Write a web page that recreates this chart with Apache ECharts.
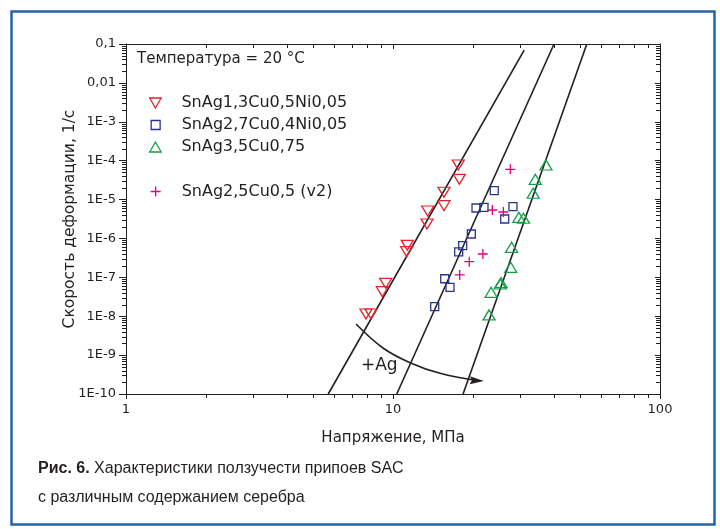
<!DOCTYPE html>
<html>
<head>
<meta charset="utf-8">
<script src="https://cdn.jsdelivr.net/npm/echarts@6/dist/echarts.min.js"></script>
<style>
html,body{margin:0;padding:0;background:#fff;}
#c{width:720px;height:529px;}
</style>
</head>
<body>
<div id="c"></div>
<script>
// ---------- data ----------
const seriesNames = ['SnAg1,3Cu0,5Ni0,05', 'SnAg2,7Cu0,4Ni0,05', 'SnAg3,5Cu0,75', 'SnAg2,5Cu0,5 (v2)'];

const redX = [17.56, 17.72, 15.52, 15.52, 13.49, 13.41, 11.31, 11.25, 9.39, 9.12, 7.92, 8.27];
const redY = [7.74e-5, 3.32e-5, 1.54e-5, 6.95e-6, 5.08e-6, 2.35e-6, 6.67e-7, 4.56e-7, 7.03e-8, 4.27e-8, 1.14e-8, 1.14e-8];

const blueX = [23.95, 20.46, 21.92, 28.14, 26.2, 19.65, 18.24, 17.62, 15.62, 16.35, 14.33];
const blueY = [1.69e-5, 6.07e-6, 6.32e-6, 6.55e-6, 3.16e-6, 1.30e-6, 6.52e-7, 4.49e-7, 9.2e-8, 5.55e-8, 1.76e-8];

const greenX = [37.4, 34.1, 33.5, 29.6, 30.8, 27.8, 27.6, 25.4, 25.2, 23.3, 22.9];
const greenY = [7.74e-5, 3.32e-5, 1.45e-5, 3.5e-6, 3.3e-6, 5.92e-7, 1.81e-7, 7.28e-8, 6.74e-8, 4.12e-8, 1.08e-8];

const pinkX = [27.5, 23.55, 25.9, 21.7, 19.3, 17.78];
const pinkY = [6.0e-5, 5.39e-6, 4.79e-6, 3.98e-7, 2.52e-7, 1.15e-7];

// fitted lines: [x, y] end points
const line1 = [[5.72, 1e-10], [31.0, 0.070]];
const line2 = [[10.33, 1e-10], [40.1, 0.1]];
const line3 = [[18.3, 1e-10], [53.2, 0.1]];

// "+Ag" arrow path
const arrowX = [7.27, 9.2, 11.58, 15.0, 20.6];
const arrowY = [6.3e-9, 1.5e-9, 6.4e-10, 3.4e-10, 2.22e-10];

const xTickLabels = ['1', '10', '100'];
const yTickLabels = ['1E-10', '1E-9', '1E-8', '1E-7', '1E-6', '1E-5', '1E-4', '1E-3', '0,01', '0,1'];

const xMin = 1, xMax = 100, yMin = 1e-10, yMax = 0.1;

// minor tick values (2..9 x 10^k)
const minorX = [];
for (let k = 0; k < 2; k++) for (let m = 2; m <= 9; m++) minorX.push(m * Math.pow(10, k));
const minorY = [];
for (let k = -10; k < -1; k++) for (let m = 2; m <= 9; m++) minorY.push(m * Math.pow(10, k));

// ---------- style ----------
const INK = '#231f20';
const FONT = 'DejaVu Sans';
const colors = ['#e52329', '#2b3590', '#13a04a', '#e5007d'];
const symDown = 'path://M0,0 L12,0 L6,10.4 Z';
const symUp = 'path://M6,0 L12,10.4 L0,10.4 Z';
const symCross = 'path://M5,0 L5,10 M0,5 L10,5';
const symHead = 'path://M0,0 L13,3.5 L0,7 L2,3.5 Z';

const zip = (xs, ys) => xs.map((x, i) => [x, ys[i]]);

const chart = echarts.init(document.getElementById('c'), null, {renderer: 'canvas'});

function legendOf(i, icon, top, w, h) {
  return {
    left: 155 - w / 2, top: top, padding: 0, orient: 'vertical',
    itemWidth: w, itemHeight: h, selectedMode: false,
    textStyle: {fontFamily: FONT, fontSize: 16, color: INK, lineHeight: 18, padding: [0, 0, 0, 181 - (155 - w / 2) - w - 5]},
    data: [{name: seriesNames[i], icon: icon,
      itemStyle: {color: 'transparent', borderColor: colors[i], borderWidth: 1.3}}]
  };
}

function scatter(i, data, symbol, size) {
  return {
    name: seriesNames[i], type: 'scatter', data: data, symbol: symbol, symbolSize: size,
    itemStyle: {color: 'transparent', borderColor: colors[i], borderWidth: 1.3, opacity: 1},
    z: 5
  };
}

function fitLine(data) {
  return {type: 'line', data: data, showSymbol: false, symbol: 'none', silent: true,
    lineStyle: {color: INK, width: 1.6}, z: 4, clip: false};
}

const arrowData = zip(arrowX, arrowY).map((p, i, a) =>
  i === a.length - 1
    ? {value: p, symbol: symHead, symbolSize: [14, 8], symbolRotate: -3}
    : {value: p, symbol: 'none'});

const option = {
  animation: false,
  backgroundColor: '#fff',
  grid: {left: 126, right: 60, top: 44, bottom: 135, show: false},
  title: {
    text: 'Температура = 20 °C', left: 137, top: 52, padding: 0,
    textStyle: {fontFamily: FONT, fontSize: 15, fontWeight: 'normal', color: INK}
  },
  legend: [
    legendOf(0, symDown, 94, 12, 10),
    legendOf(1, 'rect', 116, 9, 9),
    legendOf(2, symUp, 138, 12, 10),
    legendOf(3, symCross, 182.5, 10, 10)
  ],
  xAxis: [
    {
      type: 'log', logBase: 10, min: xMin, max: xMax, position: 'bottom',
      axisLine: {show: true, lineStyle: {color: INK, width: 1}},
      axisTick: {show: true, inside: false, length: 5, lineStyle: {color: INK}},
      axisLabel: {fontFamily: FONT, fontSize: 13, color: INK, margin: 9,
        formatter: v => xTickLabels[Math.round(Math.log10(v))]},
      splitLine: {show: false},
      name: 'Напряжение, МПа', nameLocation: 'middle', nameGap: 37,
      nameTextStyle: {fontFamily: FONT, fontSize: 15, color: INK}
    },
    {
      type: 'log', logBase: 10, min: xMin, max: xMax, position: 'top',
      axisLine: {show: true, lineStyle: {color: INK, width: 1}},
      axisTick: {show: true, inside: true, length: 5, lineStyle: {color: INK}},
      axisLabel: {show: false}, splitLine: {show: false}
    }
  ],
  yAxis: [
    {
      type: 'log', logBase: 10, min: yMin, max: yMax, splitNumber: 9, position: 'left',
      axisLine: {show: true, lineStyle: {color: INK, width: 1}},
      axisTick: {show: true, inside: false, length: 7, lineStyle: {color: INK}},
      axisLabel: {fontFamily: FONT, fontSize: 13, color: INK, margin: 10,
        formatter: v => yTickLabels[Math.round(Math.log10(v)) + 10]},
      splitLine: {show: false},
      name: 'Скорость деформации, 1/с', nameLocation: 'middle', nameGap: 48,
      nameMoveOverlap: false,
      nameTextStyle: {fontFamily: FONT, fontSize: 15.5, color: INK}
    },
    {
      type: 'log', logBase: 10, min: yMin, max: yMax, splitNumber: 9, position: 'right',
      axisLine: {show: true, lineStyle: {color: INK, width: 1}},
      axisTick: {show: true, inside: true, length: 5, lineStyle: {color: INK}},
      axisLabel: {show: false}, splitLine: {show: false}
    }
  ],
  graphic: [
    {type: 'rect', left: 9, top: 9, silent: true,
      shape: {width: 703, height: 513},
      style: {fill: 'none', stroke: '#2462aa', lineWidth: 2.5}},
    {type: 'text', left: 361, top: 357, silent: true,
      style: {text: '+Ag', fontFamily: FONT, fontSize: 17, fill: INK}},
    {type: 'text', left: 38, top: 461, silent: true,
      style: {
        text: '{b|Рис. 6.} Характеристики ползучести припоев SAC',
        fontFamily: 'Liberation Sans', fontSize: 16, fill: INK,
        rich: {b: {fontFamily: 'Liberation Sans', fontSize: 16, fontWeight: 'bold', fill: INK}}
      }},
    {type: 'text', left: 38, top: 490, silent: true,
      style: {text: 'с различным содержанием серебра', fontFamily: 'Liberation Sans', fontSize: 16, fill: INK}}
  ],
  series: [
    fitLine(line1), fitLine(line2), fitLine(line3),
    {type: 'line', data: arrowData, smooth: 0.4, showSymbol: true, silent: true, clip: false,
      itemStyle: {color: INK}, lineStyle: {color: INK, width: 1.6}, z: 4},
    scatter(0, zip(redX, redY), symDown, [12, 10]),
    scatter(1, zip(blueX, blueY), 'rect', [8, 8]),
    scatter(2, zip(greenX, greenY), symUp, [12, 10]),
    scatter(3, zip(pinkX, pinkY), symCross, [10, 10]),
    {
      type: 'custom', silent: true, clip: false, z: 3,
      data: minorX.map(v => [v, yMin]),
      renderItem: function (params, api) {
        const v = api.value(0);
        const b = api.coord([v, yMin]);
        const t = api.coord([v, yMax]);
        const x = Math.round(b[0]) + 0.5;
        const st = {stroke: INK, lineWidth: 1};
        return {type: 'group', children: [
          {type: 'line', shape: {x1: x, y1: b[1], x2: x, y2: b[1] + 4}, style: st},
          {type: 'line', shape: {x1: x, y1: t[1], x2: x, y2: t[1] + 4}, style: st}
        ]};
      }
    },
    {
      type: 'custom', silent: true, clip: false, z: 3,
      data: minorY.map(v => [xMin, v]),
      renderItem: function (params, api) {
        const v = api.value(1);
        const l = api.coord([xMin, v]);
        const r = api.coord([xMax, v]);
        const y = Math.round(l[1]) + 0.5;
        const st = {stroke: INK, lineWidth: 1};
        return {type: 'group', children: [
          {type: 'line', shape: {x1: l[0] - 4, y1: y, x2: l[0], y2: y}, style: st},
          {type: 'line', shape: {x1: r[0] - 4, y1: y, x2: r[0], y2: y}, style: st}
        ]};
      }
    }
  ]
};
chart.setOption(option);
</script>
</body>
</html>
